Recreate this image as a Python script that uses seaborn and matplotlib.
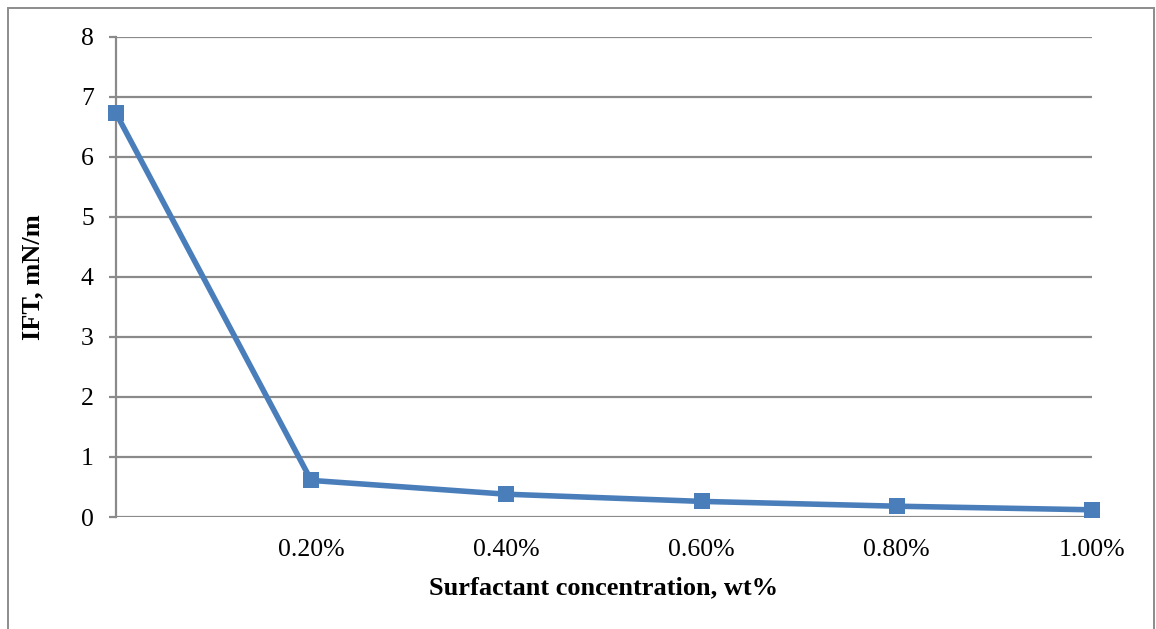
import matplotlib
matplotlib.use("Agg")
import matplotlib.pyplot as plt
import seaborn as sns
import pandas as pd
from matplotlib.patches import Rectangle

# Surfactant concentration (wt%) and measured interfacial tension (mN/m)
concentration = [0.0, 0.2, 0.4, 0.6, 0.8, 1.0]
ift = [6.73, 0.61, 0.38, 0.26, 0.18, 0.12]
x_ticks = [0.2, 0.4, 0.6, 0.8, 1.0]
x_tick_labels = ["0.20%", "0.40%", "0.60%", "0.80%", "1.00%"]
y_ticks = [0, 1, 2, 3, 4, 5, 6, 7, 8]

sns.set_theme(style="white")
plt.rcParams["font.family"] = ["Liberation Serif", "DejaVu Serif"]

df = pd.DataFrame({"conc": concentration, "ift": ift})

fig = plt.figure(figsize=(11.56, 6.29), dpi=100)
ax = fig.add_axes([116 / 1156, 1 - 517 / 629, (1092 - 116) / 1156, (517 - 37) / 629])

grid_c = "#8a8a8a"
for y in y_ticks:
    ax.axhline(y, color=grid_c, lw=1.6, zorder=1)

sns.lineplot(data=df, x="conc", y="ift", ax=ax, color="#4a7ebb", lw=4.0,
             marker="s", markersize=11, markeredgewidth=0,
             clip_on=False, zorder=3)

ax.set_xlim(0, 1.0)
ax.set_ylim(0, 8)
ax.set_xticks(x_ticks)
ax.set_xticklabels(x_tick_labels)
ax.set_yticks(y_ticks)

for s in ["top", "right", "bottom"]:
    ax.spines[s].set_visible(False)
ax.spines["left"].set_color(grid_c)
ax.spines["left"].set_linewidth(1.6)

ax.tick_params(axis="y", which="both", left=True, length=5, width=1.6,
               color=grid_c, pad=11, labelsize=18.5, labelcolor="black")
ax.tick_params(axis="x", length=0, pad=16, labelsize=18.5, labelcolor="black")

ax.set_xlabel("Surfactant concentration, wt%", fontsize=19, fontweight="bold",
              labelpad=11, color="black")
ax.set_ylabel("IFT, mN/m", fontsize=19, fontweight="bold", labelpad=26,
              color="black")

# Outer chart border (open at the bottom edge)
fig.patches.append(Rectangle((8 / 1156, -0.05), (1154 - 8) / 1156, 1.05 - 8 / 629,
                             transform=fig.transFigure, fill=False,
                             edgecolor="#8c8c8c", lw=1.4, zorder=0))

fig.savefig("out.png", dpi=100)
